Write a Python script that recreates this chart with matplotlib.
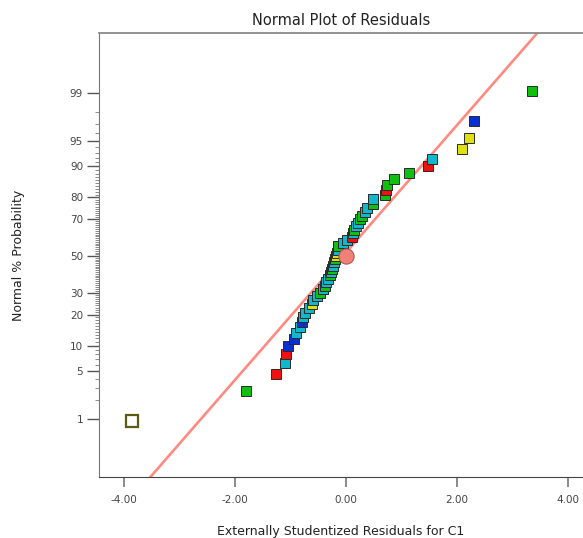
import matplotlib
matplotlib.use("Agg")
import matplotlib.pyplot as plt
import numpy as np
from statistics import NormalDist

# ====================== data ======================
# externally studentized residuals, sorted ascending
residuals = [-3.86, -1.80, -1.27, -1.10, -1.08, -1.04, -0.94, -0.90, -0.83, -0.80,
             -0.77, -0.74, -0.66, -0.62, -0.59, -0.52, -0.46, -0.42, -0.38, -0.36,
             -0.33, -0.29, -0.27, -0.25, -0.23, -0.21, -0.19, -0.18, -0.17, -0.15,
             -0.14, -0.05, 0.01, 0.10, 0.12, 0.14, 0.18, 0.22, 0.25, 0.28,
             0.35, 0.38, 0.48, 0.49, 0.71, 0.72, 0.74, 0.86, 1.14, 1.48,
             1.55, 2.09, 2.21, 2.30, 3.35]
point_colors = ['white', 'g', 'r', 'c', 'r', 'b', 'b', 'c', 'c', 'b',
                'c', 'c', 'c', 'y', 'c', 'c', 'g', 'c', 'g', 'c',
                'c', 'g', 'c', 'g', 'c', 'c', 'g', 'y', 'y', 'c',
                'g', 'c', 'c', 'r', 'c', 'g', 'c', 'c', 'g', 'g',
                'c', 'c', 'g', 'c', 'g', 'r', 'g', 'g', 'g', 'r',
                'c', 'y', 'y', 'b', 'g']
highlight = (0.0, 50)          # salmon circle (residual, %)
fit_line = (0.05, 0.91)         # z = a + b * residual
prob_major = [1, 5, 10, 20, 30, 50, 70, 80, 90, 95, 99]
x_ticks = [-4, -2, 0, 2, 4]

COLOR_MAP = {'b': '#0a2fd0', 'c': '#10b8cc', 'g': '#10c010',
             'y': '#e0e010', 'r': '#f01010', 'white': 'white'}

nd = NormalDist()
n = len(residuals)
z_pos = [nd.inv_cdf((i + 0.5) / n) for i in range(n)]

fig = plt.figure(figsize=(5.83, 5.38), dpi=100)
ax = fig.add_axes([99 / 583, 61 / 538, 1 - 99 / 583, 444 / 538])

# fitted line
xs = np.array([-4.45, 4.3])
ax.plot(xs, fit_line[0] + fit_line[1] * xs, color='#ff8a80', lw=1.9, zorder=2)

for x, z, c in zip(residuals, z_pos, point_colors):
    if c == 'white':
        ax.plot(x, z, 's', ms=8, mfc='white', mec='#5c5a14', mew=1.6, zorder=3)
    else:
        ax.plot(x, z, 's', ms=7.4, mfc=COLOR_MAP[c], mec='#2a2a2a', mew=0.7, zorder=3)

ax.plot(highlight[0], nd.inv_cdf(highlight[1] / 100), 'o', ms=11,
        mfc='#f08078', mec='#a05050', mew=0.7, zorder=4)

ax.set_xlim(-4.45, 4.27)
ax.set_ylim(-3.157, 3.186)

ax.set_xticks(x_ticks)
ax.set_xticklabels([f"{v:.2f}" for v in x_ticks])
ax.set_yticks([nd.inv_cdf(p / 100) for p in prob_major])
ax.set_yticklabels([str(p) for p in prob_major])
minor = [p for p in range(1, 100) if p not in prob_major]
ax.set_yticks([nd.inv_cdf(p / 100) for p in minor], minor=True)

ax.tick_params(axis='x', direction='out', length=7, width=1.2, color='#777777',
               labelsize=7.5, labelcolor='#444444', pad=6)
ax.tick_params(axis='y', which='major', direction='out', length=8.5, width=1.0,
               color='#555555', labelsize=7.5, labelcolor='#444444', pad=3)
ax.tick_params(axis='y', which='minor', direction='out', length=3, width=0.6,
               color='#777777')

ax.spines['right'].set_visible(False)
ax.spines['top'].set_color('#8a8a8a')
ax.spines['top'].set_linewidth(1.3)
ax.spines['left'].set_color('#777777')
ax.spines['bottom'].set_color('#444444')

ax.set_title("Normal Plot of Residuals", fontsize=10.5, color='#222222', pad=6)
ax.set_xlabel("Externally Studentized Residuals for C1", fontsize=9, color='#222222', labelpad=14)
ax.set_ylabel("Normal % Probability", fontsize=9, color='#222222', labelpad=32)

fig.savefig("out.png", dpi=100)
